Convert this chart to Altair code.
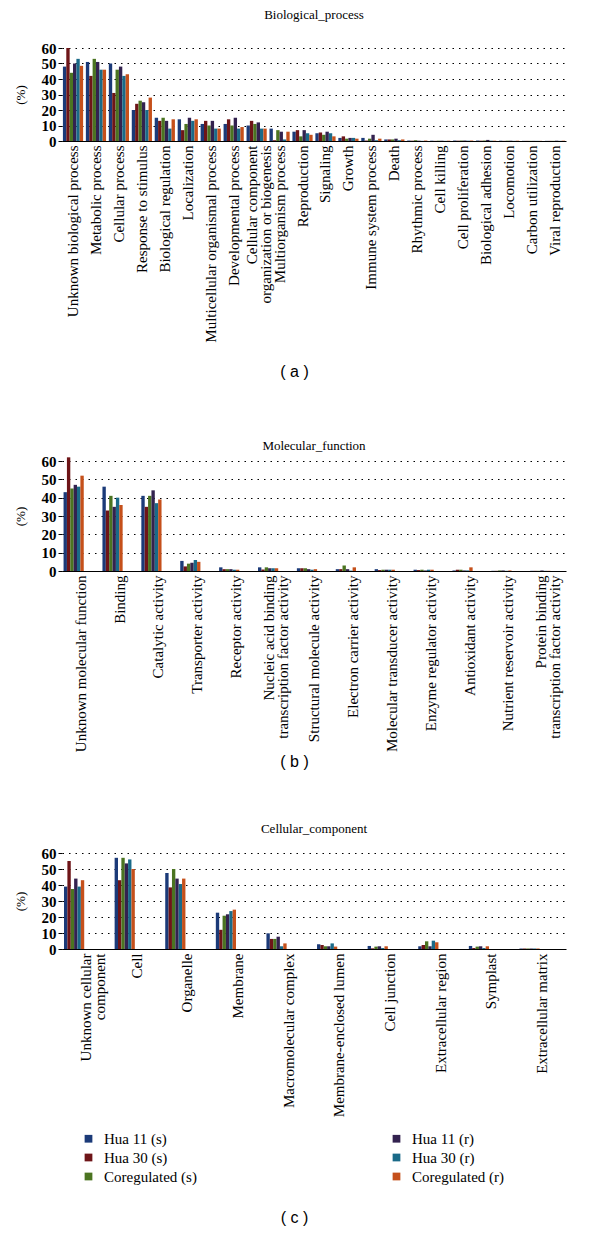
import altair as alt
import pandas as pd

SERIF = "Liberation Serif"
SANS = "Liberation Sans"

series = ["Hua 11 (s)", "Hua 30 (s)", "Coregulated (s)", "Hua 11 (r)", "Hua 30 (r)", "Coregulated (r)"]
colors = ["#1B3A78", "#6E1518", "#4B7421", "#33224F", "#1A6A88", "#C5501B"]

# (a) Biological process
bp_categories = ["Unknown biological process", "Metabolic process", "Cellular process",
                 "Response to stimulus", "Biological regulation", "Localization",
                 "Multicellular organismal process", "Developmental process",
                 "Cellular component|organization or biogenesis", "Multiorganism process",
                 "Reproduction", "Signaling", "Growth", "Immune system process", "Death",
                 "Rhythmic process", "Cell killing", "Cell proliferation", "Biological adhesion",
                 "Locomotion", "Carbon utilization", "Viral reproduction"]
bp_hua11_s = [48, 51, 50, 20, 15, 14, 11, 11, 10, 8, 6, 5, 2, 2, 1, 0.3, 0.2, 0.3, 0.3, 0.2, 0.1, 0.1]
bp_hua30_s = [60, 42, 31, 24, 13, 7, 13, 14, 13, 0.5, 7, 5.5, 3, 0.3, 1, 0.2, 0.1, 0.2, 0.2, 0.1, 0.1, 0.1]
bp_core_s = [44, 53, 46, 26, 15, 11, 10, 10, 11, 7, 3, 4, 1.5, 1.5, 1, 0.5, 0.2, 0.3, 0.3, 0.2, 0.1, 0.1]
bp_hua11_r = [50, 51, 48, 25, 13, 15, 13, 15, 12, 6, 7, 6, 2, 4, 1.5, 0.2, 0.2, 0.3, 0.7, 0.2, 0.1, 0.2]
bp_hua30_r = [53, 46, 42, 20, 8, 13, 8, 8, 8, 1, 5, 5, 2, 0.5, 0.5, 0.1, 0.1, 0.2, 0.2, 0.1, 0.1, 0.1]
bp_core_r = [48.5, 46, 43, 28, 14, 14, 8, 9, 8, 6, 4, 3, 1.5, 1.5, 1, 0.3, 0.2, 0.3, 0.2, 0.2, 0.1, 0.2]

# (b) Molecular function
mf_categories = ["Unknown molecular function", "Binding", "Catalytic activity",
                 "Transporter activity", "Receptor activity",
                 "Nucleic acid binding|transcription factor activity",
                 "Structural molecule activity", "Electron carrier activity",
                 "Molecular transducer activity", "Enzyme regulator activity",
                 "Antioxidant activity", "Nutrient reservoir activity",
                 "Protein binding|transcription factor activity"]
mf_hua11_s = [43, 46, 41, 5.5, 2, 2, 1.5, 1, 1, 0.7, 0.3, 0.1, 0.1]
mf_hua30_s = [62, 33, 35, 2.5, 1, 0.8, 1.5, 1, 0.5, 0.5, 0.7, 0.1, 0.1]
mf_core_s = [45, 41, 41, 4, 1, 2, 1.5, 3, 0.7, 0.7, 0.7, 0.3, 0.1]
mf_hua11_r = [47, 35, 44, 4.5, 1, 1.5, 1, 1, 0.7, 0.3, 0.3, 0.3, 0.3]
mf_hua30_r = [46, 40, 37, 6, 0.7, 1.5, 0.7, 0.2, 0.7, 0.7, 0.3, 0.1, 0.1]
mf_core_r = [52, 36, 39, 5, 0.7, 1.5, 1, 2, 0.7, 0.7, 2, 0.3, 0.1]

# (c) Cellular component
cc_categories = ["Unknown cellular|component", "Cell", "Organelle", "Membrane",
                 "Macromolecular complex", "Membrane-enclosed lumen", "Cell junction",
                 "Extracellular region", "Symplast", "Extracellular matrix"]
cc_hua11_s = [39, 57, 47.5, 22.7, 9.8, 2.9, 1.9, 1.7, 1.9, 0.3]
cc_hua30_s = [55, 43, 38.5, 12, 6.3, 2.5, 0.4, 2.5, 0.6, 0.3]
cc_core_s = [37.5, 57, 50, 20.8, 6.3, 1.7, 1.5, 4.8, 1.5, 0.3]
cc_hua11_r = [44, 53.5, 44, 21.7, 7.7, 1.7, 1.7, 1.7, 1.7, 0.3]
cc_hua30_r = [39, 56, 40.6, 23.7, 1.7, 3.5, 0.6, 5.2, 0.6, 0.3]
cc_core_r = [43, 50, 44, 24.6, 3.5, 1.5, 1.7, 4.2, 1.7, 0.3]

y_ticks = [0, 10, 20, 30, 40, 50, 60]


def make_df(cats, lists):
    rows = []
    for i, c in enumerate(cats):
        for s, vals in zip(series, lists):
            rows.append({"category": c, "series": s, "value": vals[i]})
    return pd.DataFrame(rows)


def panel(df, cats, title, title_offset, letter, height, title_padding, legend, multi_shift):
    return alt.Chart(df).mark_bar().encode(
        x=alt.X("category:N", sort=cats,
                scale=alt.Scale(paddingInner=0.12, paddingOuter=0.04),
                axis=alt.Axis(title=letter, labelAngle=-90,
                              labelExpr="split(datum.label, '|')",
                              labelOffset={"condition": {"test": "indexof(datum.label, '|') >= 0",
                                                         "value": multi_shift},
                                           "value": 0},
                              labelLimit=400, labelFont=SERIF, labelFontSize=15,
                              labelLineHeight=14,
                              labelColor="black", labelPadding=4, ticks=False,
                              domainColor="black", domainWidth=1.2,
                              titleFont=SANS, titleFontSize=16, titleFontWeight="normal",
                              titleColor="black", titlePadding=title_padding, titleX=232)),
        xOffset=alt.XOffset("series:N", sort=series),
        y=alt.Y("value:Q", scale=alt.Scale(domain=[0, 60], nice=False),
                axis=alt.Axis(values=y_ticks, title="(%)", titleFont=SERIF,
                              titleFontSize=13, titleFontWeight="normal", titleColor="black",
                              titlePadding=14, labelFont=SERIF, labelFontSize=15,
                              labelFontWeight="bold", labelColor="black", domain=False,
                              tickColor="black", tickSize=4, grid=True, gridDash=[1.5, 5],
                              gridColor="black", gridWidth=1.2)),
        color=alt.Color("series:N", scale=alt.Scale(domain=series, range=colors),
                        legend=legend),
    ).properties(width=504, height=height,
                 title=alt.TitleParams(title, font=SERIF, fontSize=13, fontWeight="normal",
                                       color="black", frame="group", offset=title_offset))


legend_c = alt.Legend(title=None, orient="none", legendX=19, legendY=278, columns=2,
                      columnPadding=192, rowPadding=3, symbolType="square", symbolSize=60,
                      symbolStrokeWidth=0, labelFont=SERIF, labelFontSize=15,
                      labelColor="black", labelOffset=8)

chart_a = panel(make_df(bp_categories, [bp_hua11_s, bp_hua30_s, bp_core_s, bp_hua11_r, bp_hua30_r, bp_core_r]),
                bp_categories, "Biological_process", 19, "( a )", 93, 22, None, -5)
chart_b = panel(make_df(mf_categories, [mf_hua11_s, mf_hua30_s, mf_core_s, mf_hua11_r, mf_hua30_r, mf_core_r]),
                mf_categories, "Molecular_function", 1, "( b )", 110, 2, None, -6)
chart_c = panel(make_df(cc_categories, [cc_hua11_s, cc_hua30_s, cc_core_s, cc_hua11_r, cc_hua30_r, cc_core_r]),
                cc_categories, "Cellular_component", 10, "( c )", 96, 93, legend_c, 0)

top = alt.vconcat(chart_a, chart_b, spacing=61)
chart = alt.vconcat(top, chart_c, spacing=53).resolve_scale(
    color="independent"
).properties(padding={"left": 6, "top": 1, "right": 5, "bottom": 5}).configure_view(stroke=None)

chart.save("out.html", embed_options={"renderer": "svg", "actions": False})
